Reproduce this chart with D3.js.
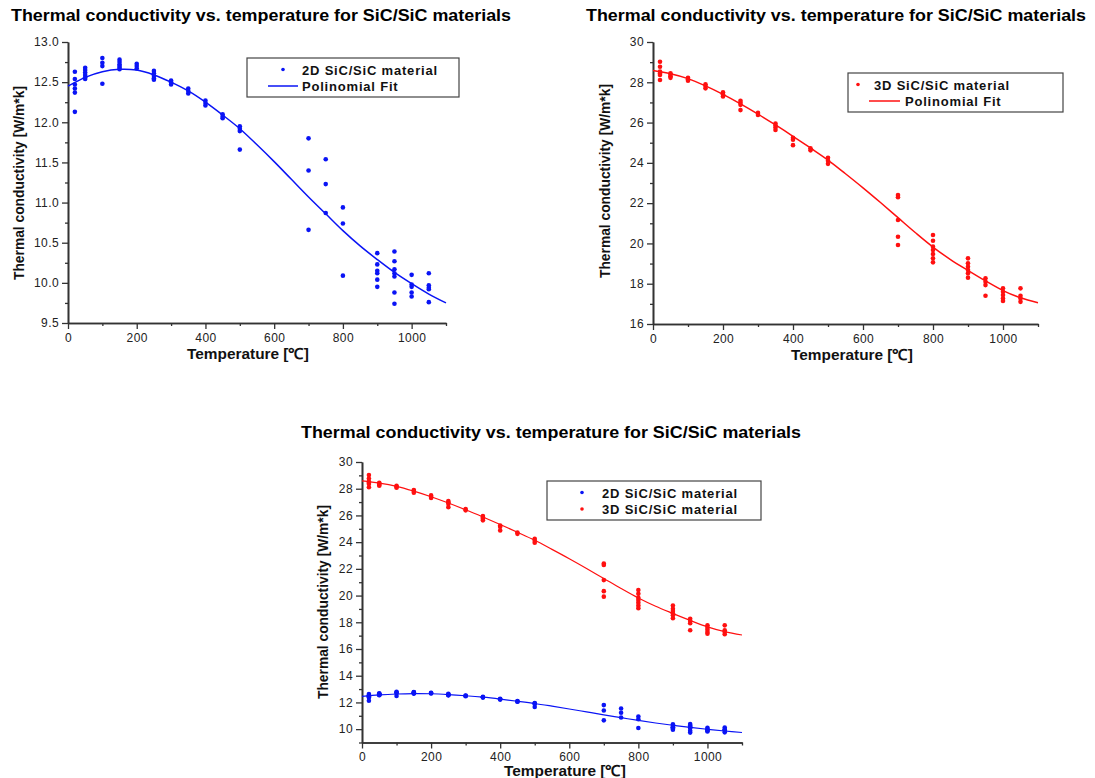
<!DOCTYPE html>
<html><head><meta charset="utf-8">
<script src="https://cdn.jsdelivr.net/npm/d3@7"></script>
<style>
body{margin:0;background:#fff;}
text{font-family:"Liberation Sans",Arial,Helvetica,sans-serif;}
</style>
</head><body>
<svg id="chart" width="1095" height="778"></svg>
<script>
// ---------- data ----------
const titleText = "Thermal conductivity vs. temperature for SiC/SiC materials";
const xLabel = "Temperature [\u2103]";
const yLabel = "Thermal conductivity [W/m*k]";
const legend2D = "2D SiC/SiC material";
const legend3D = "3D SiC/SiC material";
const legendFit = "Polinomial Fit";

const temps2D = [20, 50, 100, 150, 200, 250, 300, 350, 400, 450, 500, 700, 750, 800, 900, 950, 1000, 1050];
const k2D = [
  [12.63, 12.54, 12.47, 12.42, 12.37, 12.13],
  [12.68, 12.65, 12.62, 12.59, 12.56, 12.54],
  [12.80, 12.74, 12.70, 12.48],
  [12.78, 12.75, 12.72, 12.70, 12.68, 12.66],
  [12.73, 12.70, 12.67],
  [12.64, 12.61, 12.58, 12.55, 12.53],
  [12.52, 12.50, 12.47],
  [12.42, 12.39, 12.36],
  [12.27, 12.24, 12.21],
  [12.10, 12.07, 12.05],
  [11.95, 11.92, 11.89, 11.66],
  [11.80, 11.40, 10.66],
  [11.54, 11.23, 10.87],
  [10.94, 10.74, 10.09],
  [10.37, 10.23, 10.15, 10.12, 10.04, 9.95],
  [10.39, 10.27, 10.17, 10.12, 10.08, 9.88, 9.74],
  [10.10, 9.98, 9.95, 9.88, 9.83],
  [10.12, 9.97, 9.94, 9.92, 9.76]
];

const temps3D = [20, 50, 100, 150, 200, 250, 300, 350, 400, 450, 500, 700, 800, 900, 950, 1000, 1050];
const k3D = [
  [29.02, 28.77, 28.53, 28.44, 28.36, 28.11],
  [28.45, 28.38, 28.30, 28.22],
  [28.22, 28.15, 28.08],
  [27.90, 27.82, 27.70],
  [27.50, 27.40, 27.30],
  [27.08, 26.98, 26.88, 26.62],
  [26.48, 26.38],
  [25.95, 25.85, 25.75, 25.63],
  [25.25, 25.15, 24.88],
  [24.72, 24.62],
  [24.25, 24.10, 23.95],
  [22.40, 22.29, 21.16, 20.33, 19.92],
  [20.42, 20.13, 19.84, 19.67, 19.47, 19.26, 19.06],
  [19.26, 19.01, 18.84, 18.68, 18.52, 18.30],
  [18.27, 18.10, 17.93, 17.40],
  [17.77, 17.60, 17.44, 17.27, 17.14],
  [17.77, 17.40, 17.27, 17.10]
];

// polynomial fit curves
const fitTemps = [0, 50, 100, 150, 200, 250, 300, 350, 400, 450, 500, 550, 600, 650, 700, 750, 800, 850, 900, 950, 1000, 1050, 1100];
const fit2D = [12.45, 12.56, 12.63, 12.66, 12.65, 12.59, 12.50, 12.39, 12.25, 12.09, 11.92, 11.72, 11.51, 11.29, 11.07, 10.86, 10.65, 10.46, 10.29, 10.13, 9.99, 9.86, 9.75];
const fit3D = [28.58, 28.42, 28.18, 27.82, 27.40, 26.93, 26.42, 25.88, 25.32, 24.74, 24.14, 23.46, 22.76, 22.03, 21.28, 20.53, 19.82, 19.20, 18.66, 18.14, 17.66, 17.30, 17.05];

const xMajorTicks = [0, 200, 400, 600, 800, 1000];
const xMinorTicks = [100, 300, 500, 700, 900, 1100];
const yMajor2D = [9.5, 10.0, 10.5, 11.0, 11.5, 12.0, 12.5, 13.0];
const yMinor2D = [9.75, 10.25, 10.75, 11.25, 11.75, 12.25, 12.75];
const yMajor3D = [16, 18, 20, 22, 24, 26, 28, 30];
const yMinor3D = [17, 19, 21, 23, 25, 27, 29];
const yMajorAll = [10, 12, 14, 16, 18, 20, 22, 24, 26, 28, 30];
const yMinorAll = [9, 11, 13, 15, 17, 19, 21, 23, 25, 27, 29];

const BLUE = "#0a14f5", RED = "#ff1010";

// ---------- drawing ----------
const svg = d3.select("#chart");

function flatten(temps, vals) {
  const out = [];
  temps.forEach((t, i) => vals[i].forEach(v => out.push({t, v})));
  return out;
}

function panel(cfg) {
  const g = svg.append("g");
  const x = d3.scaleLinear().domain([0, 1100]).range([cfg.left, cfg.right]);
  const y = d3.scaleLinear().domain(cfg.yDomain).range([cfg.bottom, cfg.top]);

  const axisStyle = sel => {
    sel.select(".domain").attr("stroke", "#333").attr("stroke-width", 1.6);
    sel.selectAll(".tick line").attr("stroke", "#333").attr("stroke-width", 1.3);
    sel.selectAll(".tick text").attr("fill", "#222").style("font-size", "12px")
      .style("font-family", '"Liberation Sans",Arial,sans-serif').style("letter-spacing", "0.4px");
  };
  g.append("g").attr("transform", `translate(0,${cfg.bottom})`)
    .call(d3.axisBottom(x).tickValues(xMinorTicks).tickSize(3).tickFormat("").tickSizeOuter(0)).call(axisStyle);
  g.append("g").attr("transform", `translate(0,${cfg.bottom})`)
    .call(d3.axisBottom(x).tickValues(xMajorTicks).tickSize(6).tickPadding(4).tickFormat(d3.format("d")).tickSizeOuter(0)).call(axisStyle);
  g.append("g").attr("transform", `translate(${cfg.left},0)`)
    .call(d3.axisLeft(y).tickValues(cfg.yMinor).tickSize(3).tickFormat("").tickSizeOuter(0)).call(axisStyle);
  g.append("g").attr("transform", `translate(${cfg.left},0)`)
    .call(d3.axisLeft(y).tickValues(cfg.yMajor).tickSize(6).tickPadding(3).tickFormat(cfg.fmt).tickSizeOuter(0)).call(axisStyle);

  cfg.series.forEach(s => {
    const line = d3.line().x((d, i) => x(fitTemps[i])).y(d => y(d)).curve(d3.curveCatmullRom);
    g.append("path").datum(s.fit).attr("d", line).attr("fill", "none")
      .attr("stroke", s.color).attr("stroke-width", cfg.fitWidth);
    g.append("g").selectAll("circle").data(flatten(s.temps, s.vals)).join("circle")
      .attr("cx", d => x(d.t)).attr("cy", d => y(d.v)).attr("r", cfg.r).attr("fill", s.color);
  });

  g.append("text").attr("x", cfg.titleX).attr("y", cfg.titleY).attr("text-anchor", "middle")
    .style("font-size", "17px").style("font-weight", "bold").attr("fill", "#000")
    .attr("textLength", 500).attr("lengthAdjust", "spacingAndGlyphs").text(titleText);
  g.append("text").attr("x", cfg.xlX).attr("y", cfg.xlY).attr("text-anchor", "middle")
    .style("font-size", "15px").style("font-weight", "bold").attr("fill", "#111")
    .attr("textLength", 122).attr("lengthAdjust", "spacingAndGlyphs").text(xLabel);
  g.append("text").attr("transform", `translate(${cfg.ylX},${cfg.ylY}) rotate(-90)`).attr("text-anchor", "middle")
    .style("font-size", "14px").style("font-weight", "bold").attr("fill", "#111")
    .attr("textLength", 194).attr("lengthAdjust", "spacingAndGlyphs").text(yLabel);

  const L = cfg.legend;
  g.append("rect").attr("x", L.x).attr("y", L.y).attr("width", L.w).attr("height", L.h)
    .attr("fill", "#fff").attr("stroke", "#444").attr("stroke-width", 1.2);
  L.items.forEach((it, i) => {
    const cy = L.y + 11.5 + i * 16.5;
    if (it.type === "dot") {
      g.append("circle").attr("cx", L.markX).attr("cy", cy).attr("r", 1.8).attr("fill", it.color);
    } else {
      g.append("line").attr("x1", L.lineX1).attr("x2", L.lineX2).attr("y1", cy).attr("y2", cy)
        .attr("stroke", it.color).attr("stroke-width", 1.5);
    }
    g.append("text").attr("x", it.textX !== undefined ? it.textX : L.textX).attr("y", cy + 5)
      .style("font-size", "13px").style("font-weight", "bold").attr("fill", "#111")
      .style("letter-spacing", "0.8px").text(it.label);
  });
}

panel({
  left: 68, right: 446, top: 42, bottom: 323, yDomain: [9.5, 13],
  yMajor: yMajor2D, yMinor: yMinor2D, fmt: d3.format(".1f"), r: 2.3, fitWidth: 1.5,
  series: [{color: BLUE, temps: temps2D, vals: k2D, fit: fit2D}],
  titleX: 261, titleY: 21, xlX: 248, xlY: 359, ylX: 24, ylY: 183,
  legend: {x: 247, y: 58, w: 212, h: 39, markX: 283, lineX1: 268, lineX2: 298, textX: 302,
    items: [{type: "dot", color: BLUE, label: legend2D}, {type: "line", color: BLUE, label: legendFit}]}
});

panel({
  left: 653, right: 1038, top: 42, bottom: 324, yDomain: [16, 30],
  yMajor: yMajor3D, yMinor: yMinor3D, fmt: d3.format("d"), r: 2.3, fitWidth: 1.5,
  series: [{color: RED, temps: temps3D, vals: k3D, fit: fit3D}],
  titleX: 836, titleY: 21, xlX: 852, xlY: 360, ylX: 610, ylY: 181,
  legend: {x: 848, y: 73, w: 215, h: 39, markX: 858, lineX1: 869, lineX2: 900, textX: 874,
    items: [{type: "dot", color: RED, label: legend3D}, {type: "line", color: RED, label: legendFit, textX: 905}]}
});

panel({
  left: 362, right: 742, top: 462, bottom: 742.5, yDomain: [9, 30],
  yMajor: yMajorAll, yMinor: yMinorAll, fmt: d3.format("d"), r: 2.3, fitWidth: 1.2,
  series: [{color: BLUE, temps: temps2D, vals: k2D, fit: fit2D}, {color: RED, temps: temps3D, vals: k3D, fit: fit3D}],
  titleX: 551, titleY: 438, xlX: 565, xlY: 776, ylX: 328, ylY: 602,
  legend: {x: 547, y: 481, w: 214, h: 39, markX: 582, lineX1: 570, lineX2: 598, textX: 602,
    items: [{type: "dot", color: BLUE, label: legend2D}, {type: "dot", color: RED, label: legend3D}]}
});
</script>
</body></html>
